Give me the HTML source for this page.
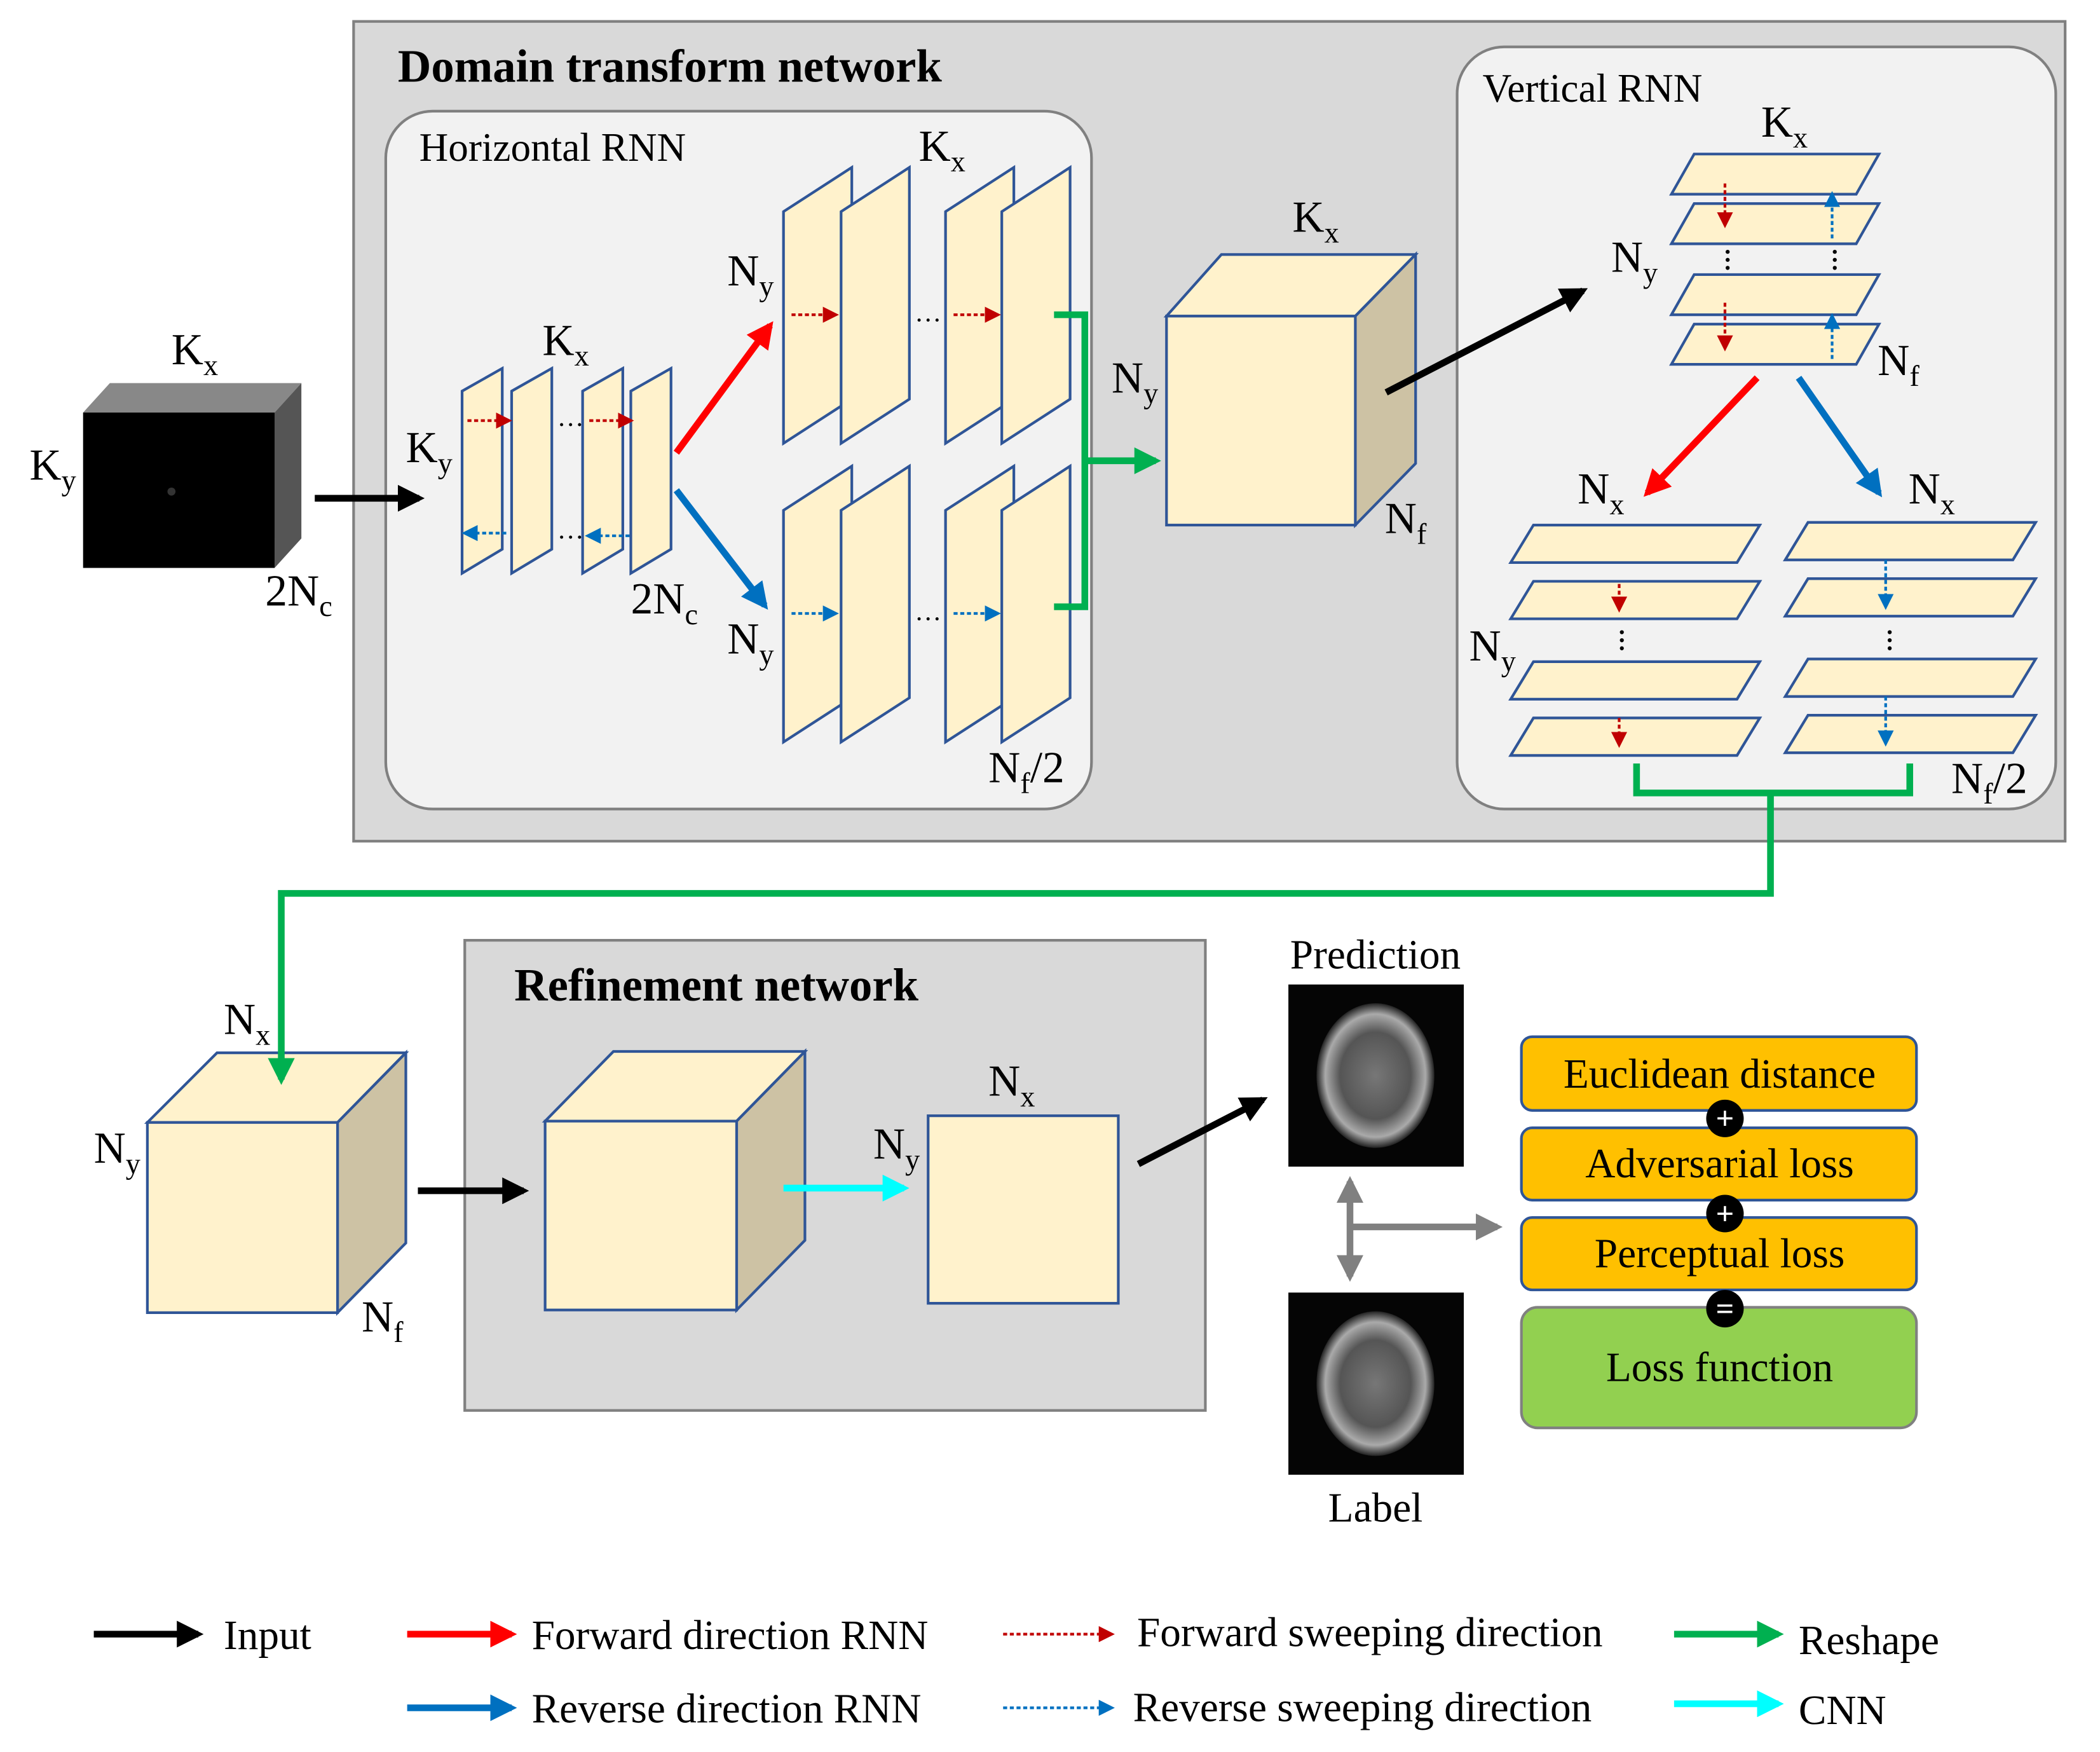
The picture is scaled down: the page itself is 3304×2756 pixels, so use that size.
<!DOCTYPE html>
<html><head><meta charset="utf-8"><style>html,body{margin:0;padding:0;background:#fff}svg{display:block}text{font-family:"Liberation Serif",serif}</style></head>
<body>
<svg width="3304" height="2756" viewBox="0 0 1568 1308" xmlns="http://www.w3.org/2000/svg">
<defs>
<marker id="ak" viewBox="0 0 10 10" refX="8" refY="5" markerWidth="4" markerHeight="4" orient="auto"><path d="M0,0L10,5L0,10z" fill="#000"/></marker>
<marker id="ar" viewBox="0 0 10 10" refX="8" refY="5" markerWidth="4" markerHeight="4" orient="auto"><path d="M0,0L10,5L0,10z" fill="#ff0000"/></marker>
<marker id="ab" viewBox="0 0 10 10" refX="8" refY="5" markerWidth="4" markerHeight="4" orient="auto"><path d="M0,0L10,5L0,10z" fill="#0070c0"/></marker>
<marker id="ag" viewBox="0 0 10 10" refX="8" refY="5" markerWidth="4" markerHeight="4" orient="auto"><path d="M0,0L10,5L0,10z" fill="#00b050"/></marker>
<marker id="ac" viewBox="0 0 10 10" refX="8" refY="5" markerWidth="4" markerHeight="4" orient="auto"><path d="M0,0L10,5L0,10z" fill="#00ffff"/></marker>
<marker id="agr" viewBox="0 0 10 10" refX="8" refY="5" markerWidth="4" markerHeight="4" orient="auto"><path d="M0,0L10,5L0,10z" fill="#808080"/></marker>
<marker id="sr" viewBox="0 0 10 10" refX="8" refY="5" markerWidth="6" markerHeight="6" orient="auto"><path d="M0,0L10,5L0,10z" fill="#c00000"/></marker>
<marker id="sb" viewBox="0 0 10 10" refX="8" refY="5" markerWidth="6" markerHeight="6" orient="auto"><path d="M0,0L10,5L0,10z" fill="#0070c0"/></marker>
<radialGradient id="brain" cx="50%" cy="50%" r="50%"><stop offset="0" stop-color="#777"/><stop offset="0.6" stop-color="#555"/><stop offset="0.85" stop-color="#aaa"/><stop offset="1" stop-color="#222"/></radialGradient>
</defs>
<rect width="1568" height="1308" fill="#fff"/>
<!-- Domain transform -->
<rect x="264" y="16" width="1278" height="612" fill="#d9d9d9" stroke="#808080" stroke-width="2"/>
<text x="297" y="61" font-size="34.5" font-weight="bold">Domain transform network</text>
<rect x="288" y="83" width="527" height="521" rx="35" fill="#f2f2f2" stroke="#808080" stroke-width="2"/>
<text x="313" y="120" font-size="30">Horizontal RNN</text>
<rect x="1088" y="35" width="447" height="569" rx="35" fill="#f2f2f2" stroke="#808080" stroke-width="2"/>
<text x="1107" y="76" font-size="30">Vertical RNN</text>

<!-- input kspace -->
<polygon points="62,308 205,308 225,286 82,286" fill="#888"/>
<polygon points="205,308 225,286 225,402 205,424" fill="#555"/>
<rect x="62" y="308" width="143" height="116" fill="#000"/>
<circle cx="128" cy="367" r="3" fill="#333"/>
<text x="128" y="272" font-size="33">K<tspan font-size="22" dy="8">x</tspan></text>
<text x="22" y="358" font-size="33">K<tspan font-size="22" dy="8">y</tspan></text>
<text x="198" y="452" font-size="33">2N<tspan font-size="22" dy="8">c</tspan></text>
<line x1="235" y1="372" x2="313" y2="372" stroke="#000" stroke-width="5" marker-end="url(#ak)"/>

<!-- small slices -->
<g fill="#fff2cc" stroke="#2f5597" stroke-width="2">
<polygon points="345,292 375,275 375,410 345,428"/>
<polygon points="382,292 412,275 412,410 382,428"/>
<polygon points="435,292 465,275 465,410 435,428"/>
<polygon points="471,292 501,275 501,410 471,428"/>
</g>
<line x1="349" y1="314" x2="380" y2="314" stroke="#c00000" stroke-width="2" stroke-dasharray="3,2" marker-end="url(#sr)"/>
<line x1="440" y1="314" x2="471" y2="314" stroke="#c00000" stroke-width="2" stroke-dasharray="3,2" marker-end="url(#sr)"/>
<line x1="378" y1="398" x2="347" y2="398" stroke="#0070c0" stroke-width="2" stroke-dasharray="3,2" marker-end="url(#sb)"/>
<line x1="470" y1="400" x2="439" y2="400" stroke="#0070c0" stroke-width="2" stroke-dasharray="3,2" marker-end="url(#sb)"/>
<text x="416" y="318" font-size="20">…</text>
<text x="416" y="402" font-size="20">…</text>
<text x="405" y="265" font-size="33">K<tspan font-size="22" dy="8">x</tspan></text>
<text x="303" y="345" font-size="33">K<tspan font-size="22" dy="8">y</tspan></text>
<text x="471" y="458" font-size="33">2N<tspan font-size="22" dy="8">c</tspan></text>

<line x1="505" y1="338" x2="575" y2="243" stroke="#ff0000" stroke-width="5" marker-end="url(#ar)"/>
<line x1="505" y1="366" x2="571" y2="452" stroke="#0070c0" stroke-width="5" marker-end="url(#ab)"/>

<!-- big slices -->
<g fill="#fff2cc" stroke="#2f5597" stroke-width="2">
<polygon points="585,158 636,125 636,298 585,331"/>
<polygon points="628,158 679,125 679,298 628,331"/>
<polygon points="706,158 757,125 757,298 706,331"/>
<polygon points="748,158 799,125 799,298 748,331"/>
<polygon points="585,381 636,348 636,521 585,554"/>
<polygon points="628,381 679,348 679,521 628,554"/>
<polygon points="706,381 757,348 757,521 706,554"/>
<polygon points="748,381 799,348 799,521 748,554"/>
</g>
<line x1="591" y1="235" x2="624" y2="235" stroke="#c00000" stroke-width="2" stroke-dasharray="3,2" marker-end="url(#sr)"/>
<line x1="712" y1="235" x2="745" y2="235" stroke="#c00000" stroke-width="2" stroke-dasharray="3,2" marker-end="url(#sr)"/>
<line x1="591" y1="458" x2="624" y2="458" stroke="#0070c0" stroke-width="2" stroke-dasharray="3,2" marker-end="url(#sb)"/>
<line x1="712" y1="458" x2="745" y2="458" stroke="#0070c0" stroke-width="2" stroke-dasharray="3,2" marker-end="url(#sb)"/>
<text x="683" y="240" font-size="20">…</text>
<text x="683" y="463" font-size="20">…</text>
<text x="686" y="120" font-size="33">K<tspan font-size="22" dy="8">x</tspan></text>
<text x="543" y="213" font-size="33">N<tspan font-size="22" dy="8">y</tspan></text>
<text x="543" y="488" font-size="33">N<tspan font-size="22" dy="8">y</tspan></text>
<text x="738" y="584" font-size="33">N<tspan font-size="22" dy="8">f</tspan><tspan dy="-8">/2</tspan></text>

<polyline points="787,235 810,235 810,453 787,453" fill="none" stroke="#00b050" stroke-width="5"/>
<line x1="810" y1="344" x2="863" y2="344" stroke="#00b050" stroke-width="5" marker-end="url(#ag)"/>

<!-- middle cube -->
<polygon points="871,236 912,190 1057,190 1012,236" fill="#fff2cc" stroke="#2f5597" stroke-width="2"/>
<polygon points="1012,236 1057,190 1057,346 1012,392" fill="#cdc2a4" stroke="#2f5597" stroke-width="2"/>
<rect x="871" y="236" width="141" height="156" fill="#fff2cc" stroke="#2f5597" stroke-width="2"/>
<text x="965" y="173" font-size="33">K<tspan font-size="22" dy="8">x</tspan></text>
<text x="830" y="293" font-size="33">N<tspan font-size="22" dy="8">y</tspan></text>
<text x="1034" y="398" font-size="33">N<tspan font-size="22" dy="8">f</tspan></text>
<line x1="1035" y1="293" x2="1182" y2="217" stroke="#000" stroke-width="5" marker-end="url(#ak)"/>

<!-- vertical RNN slices -->
<g fill="#fff2cc" stroke="#2f5597" stroke-width="2">
<polygon points="1248,145 1265,115 1403,115 1386,145"/>
<polygon points="1248,182 1265,152 1403,152 1386,182"/>
<polygon points="1248,235 1265,205 1403,205 1386,235"/>
<polygon points="1248,272 1265,242 1403,242 1386,272"/>
<polygon points="1128,420 1145,392 1314,392 1297,420"/>
<polygon points="1128,462 1145,434 1314,434 1297,462"/>
<polygon points="1128,522 1145,494 1314,494 1297,522"/>
<polygon points="1128,564 1145,536 1314,536 1297,564"/>
<polygon points="1333,418 1350,390 1520,390 1503,418"/>
<polygon points="1333,460 1350,432 1520,432 1503,460"/>
<polygon points="1333,520 1350,492 1520,492 1503,520"/>
<polygon points="1333,562 1350,534 1520,534 1503,562"/>
</g>
<line x1="1288" y1="137" x2="1288" y2="168" stroke="#c00000" stroke-width="2" stroke-dasharray="3,2" marker-end="url(#sr)"/>
<line x1="1288" y1="226" x2="1288" y2="260" stroke="#c00000" stroke-width="2" stroke-dasharray="3,2" marker-end="url(#sr)"/>
<line x1="1368" y1="178" x2="1368" y2="145" stroke="#0070c0" stroke-width="2" stroke-dasharray="3,2" marker-end="url(#sb)"/>
<line x1="1368" y1="268" x2="1368" y2="236" stroke="#0070c0" stroke-width="2" stroke-dasharray="3,2" marker-end="url(#sb)"/>
<line x1="1209" y1="436" x2="1209" y2="455" stroke="#c00000" stroke-width="2" stroke-dasharray="3,2" marker-end="url(#sr)"/>
<line x1="1209" y1="536" x2="1209" y2="556" stroke="#c00000" stroke-width="2" stroke-dasharray="3,2" marker-end="url(#sr)"/>
<line x1="1408" y1="418" x2="1408" y2="453" stroke="#0070c0" stroke-width="2" stroke-dasharray="3,2" marker-end="url(#sb)"/>
<line x1="1408" y1="520" x2="1408" y2="555" stroke="#0070c0" stroke-width="2" stroke-dasharray="3,2" marker-end="url(#sb)"/>
<g fill="#000"><circle cx="1290" cy="188" r="1.5"/><circle cx="1290" cy="194" r="1.5"/><circle cx="1290" cy="200" r="1.5"/>
<circle cx="1370" cy="188" r="1.5"/><circle cx="1370" cy="194" r="1.5"/><circle cx="1370" cy="200" r="1.5"/>
<circle cx="1211" cy="472" r="1.5"/><circle cx="1211" cy="478" r="1.5"/><circle cx="1211" cy="484" r="1.5"/>
<circle cx="1411" cy="472" r="1.5"/><circle cx="1411" cy="478" r="1.5"/><circle cx="1411" cy="484" r="1.5"/></g>
<text x="1315" y="102" font-size="33">K<tspan font-size="22" dy="8">x</tspan></text>
<text x="1203" y="203" font-size="33">N<tspan font-size="22" dy="8">y</tspan></text>
<text x="1402" y="280" font-size="33">N<tspan font-size="22" dy="8">f</tspan></text>
<text x="1178" y="376" font-size="33">N<tspan font-size="22" dy="8">x</tspan></text>
<text x="1425" y="376" font-size="33">N<tspan font-size="22" dy="8">x</tspan></text>
<text x="1097" y="493" font-size="33">N<tspan font-size="22" dy="8">y</tspan></text>
<text x="1457" y="592" font-size="33">N<tspan font-size="22" dy="8">f</tspan><tspan dy="-8">/2</tspan></text>
<line x1="1312" y1="282" x2="1230" y2="368" stroke="#ff0000" stroke-width="5" marker-end="url(#ar)"/>
<line x1="1343" y1="282" x2="1403" y2="368" stroke="#0070c0" stroke-width="5" marker-end="url(#ab)"/>

<polyline points="1222,570 1222,592 1426,592 1426,570" fill="none" stroke="#00b050" stroke-width="5"/>
<polyline points="1322,592 1322,667 210,667 210,800" fill="none" stroke="#00b050" stroke-width="5"/>

<!-- bottom left cube -->
<polygon points="110,838 162,786 303,786 252,838" fill="#fff2cc" stroke="#2f5597" stroke-width="2"/>
<polygon points="252,838 303,786 303,928 252,980" fill="#cdc2a4" stroke="#2f5597" stroke-width="2"/>
<rect x="110" y="838" width="142" height="142" fill="#fff2cc" stroke="#2f5597" stroke-width="2"/>
<line x1="210" y1="785" x2="210" y2="806" stroke="#00b050" stroke-width="5" marker-end="url(#ag)"/>
<text x="167" y="772" font-size="33">N<tspan font-size="22" dy="8">x</tspan></text>
<text x="70" y="868" font-size="33">N<tspan font-size="22" dy="8">y</tspan></text>
<text x="270" y="994" font-size="33">N<tspan font-size="22" dy="8">f</tspan></text>

<!-- refinement -->
<rect x="347" y="702" width="553" height="351" fill="#d9d9d9" stroke="#808080" stroke-width="2"/>
<line x1="312" y1="889" x2="391" y2="889" stroke="#000" stroke-width="5" marker-end="url(#ak)"/>
<text x="384" y="747" font-size="34.5" font-weight="bold">Refinement network</text>
<polygon points="407,837 458,785 601,785 550,837" fill="#fff2cc" stroke="#2f5597" stroke-width="2"/>
<polygon points="550,837 601,785 601,926 550,978" fill="#cdc2a4" stroke="#2f5597" stroke-width="2"/>
<rect x="407" y="837" width="143" height="141" fill="#fff2cc" stroke="#2f5597" stroke-width="2"/>
<line x1="585" y1="887" x2="675" y2="887" stroke="#00ffff" stroke-width="5" marker-end="url(#ac)"/>
<rect x="693" y="833" width="142" height="140" fill="#fff2cc" stroke="#2f5597" stroke-width="2"/>
<text x="738" y="818" font-size="33">N<tspan font-size="22" dy="8">x</tspan></text>
<text x="652" y="865" font-size="33">N<tspan font-size="22" dy="8">y</tspan></text>
<line x1="850" y1="869" x2="943" y2="821" stroke="#000" stroke-width="5" marker-end="url(#ak)"/>

<!-- images -->
<text x="1027" y="723" font-size="31" text-anchor="middle">Prediction</text>
<rect x="962" y="735" width="131" height="136" fill="#050505"/>
<ellipse cx="1027" cy="803" rx="44" ry="54" fill="url(#brain)"/>
<rect x="962" y="965" width="131" height="136" fill="#050505"/>
<ellipse cx="1027" cy="1033" rx="44" ry="54" fill="url(#brain)"/>
<text x="1027" y="1136" font-size="31" text-anchor="middle">Label</text>
<line x1="1008" y1="916" x2="1008" y2="882" stroke="#808080" stroke-width="5" marker-end="url(#agr)"/>
<line x1="1008" y1="916" x2="1008" y2="953" stroke="#808080" stroke-width="5" marker-end="url(#agr)"/>
<line x1="1008" y1="916" x2="1118" y2="916" stroke="#808080" stroke-width="5" marker-end="url(#agr)"/>

<!-- losses -->
<g stroke="#2f5597" stroke-width="2">
<rect x="1136" y="774" width="295" height="55" rx="8" fill="#ffc000"/>
<rect x="1136" y="842" width="295" height="54" rx="8" fill="#ffc000"/>
<rect x="1136" y="909" width="295" height="54" rx="8" fill="#ffc000"/>
<rect x="1136" y="976" width="295" height="90" rx="12" fill="#92d050" stroke="#808080"/>
</g>
<text x="1284" y="812" font-size="31" text-anchor="middle">Euclidean distance</text>
<text x="1284" y="879" font-size="31" text-anchor="middle">Adversarial loss</text>
<text x="1284" y="946" font-size="31" text-anchor="middle">Perceptual loss</text>
<text x="1284" y="1031" font-size="31" text-anchor="middle">Loss function</text>
<g fill="#000"><circle cx="1288" cy="835" r="14"/><circle cx="1288" cy="906" r="14"/><circle cx="1288" cy="977" r="14"/></g>
<g fill="#fff" font-size="24" font-weight="bold" text-anchor="middle"><text x="1288" y="843">+</text><text x="1288" y="914">+</text><text x="1288" y="985">=</text></g>

<!-- legend -->
<line x1="70" y1="1220" x2="148" y2="1220" stroke="#000" stroke-width="5" marker-end="url(#ak)"/>
<text x="167" y="1231" font-size="31">Input</text>
<line x1="304" y1="1220" x2="382" y2="1220" stroke="#ff0000" stroke-width="5" marker-end="url(#ar)"/>
<text x="397" y="1231" font-size="31">Forward direction RNN</text>
<line x1="304" y1="1275" x2="382" y2="1275" stroke="#0070c0" stroke-width="5" marker-end="url(#ab)"/>
<text x="397" y="1286" font-size="31">Reverse direction RNN</text>
<line x1="749" y1="1220" x2="830" y2="1220" stroke="#c00000" stroke-width="2" stroke-dasharray="3,2" marker-end="url(#sr)"/>
<text x="849" y="1229" font-size="31">Forward sweeping direction</text>
<line x1="749" y1="1275" x2="830" y2="1275" stroke="#0070c0" stroke-width="2" stroke-dasharray="3,2" marker-end="url(#sb)"/>
<text x="846" y="1285" font-size="31">Reverse sweeping direction</text>
<line x1="1250" y1="1220" x2="1328" y2="1220" stroke="#00b050" stroke-width="5" marker-end="url(#ag)"/>
<text x="1343" y="1235" font-size="31">Reshape</text>
<line x1="1250" y1="1272" x2="1328" y2="1272" stroke="#00ffff" stroke-width="5" marker-end="url(#ac)"/>
<text x="1343" y="1287" font-size="31">CNN</text>
</svg>
</body></html>
